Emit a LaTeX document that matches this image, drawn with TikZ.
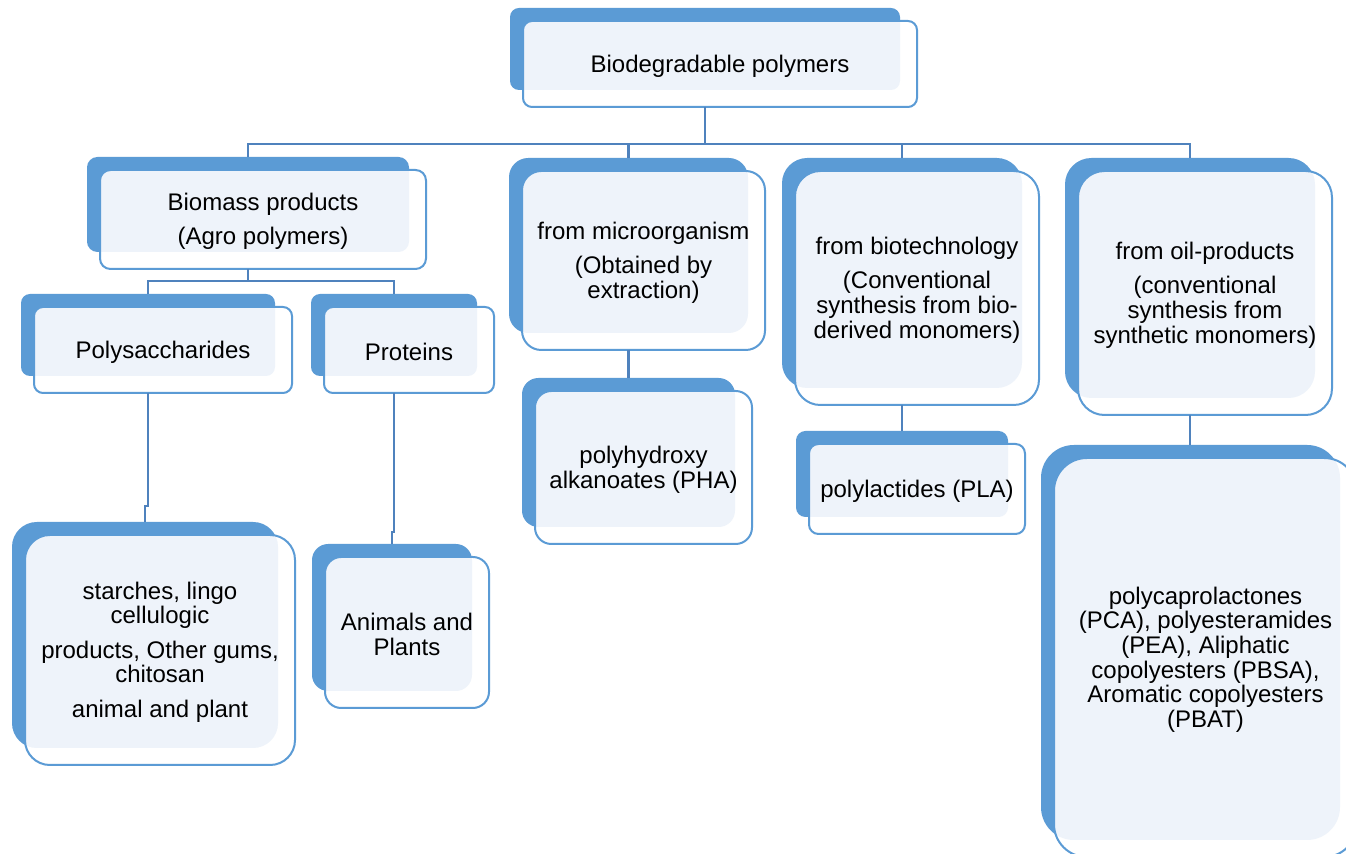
\documentclass[tikz,border=0pt]{standalone}
\usepackage{tikz}
\usepackage{fontspec}
\setmainfont{Liberation Sans}
\usepackage{xcolor}

\definecolor{boxblue}{HTML}{5B9BD5}
\definecolor{boxpale}{HTML}{EEF3FA}
\definecolor{linkblue}{HTML}{4F82BD}

\tikzset{
  backfill/.style = {fill=boxblue},
  frontline/.style = {draw=boxblue, line width=1pt},
  boxtext/.style = {align=center, inner sep=0pt, font=\fontsize{12}{12.3}\selectfont},
  link/.style = {draw=linkblue, line width=1.25pt}
}

% #1 name, #2 #3 top left of the blue back, #4 #5 its size, #6 text
\newcommand{\polybox}[6]{%
  \pgfmathsetmacro{\rr}{0.11*min(#4,#5)}
  \fill[backfill, rounded corners=\rr*0.5pt] (#2,#3) rectangle ++(#4,#5);
  \fill[white, rounded corners=\rr*0.5pt] (#2+13,#3+13) rectangle ++(#4+4,#5+4);
  \begin{scope}
    \clip[rounded corners=\rr*0.5pt] (#2+13,#3+13) rectangle ++(#4+4,#5+4);
    \fill[boxpale, rounded corners=\rr*0.5pt] (#2,#3) rectangle ++(#4,#5);
  \end{scope}
  \draw[frontline, rounded corners=\rr*0.5pt] (#2+13,#3+13) rectangle ++(#4+4,#5+4);
  \coordinate (#1-t) at (#2+#4/2,#3);
  \coordinate (#1-b) at (#2+#4/2,#3+#5+17);
  \node[boxtext] (#1) at (#2+15+#4/2,#3+17+#5/2) {#6};
}

\begin{document}
\begin{tikzpicture}[x=0.5pt, y=-0.5pt]
\fill[white] (0,0) rectangle (1346,854);
\useasboundingbox (0,0) rectangle (1346,854);

\polybox{top}{510}{8}{390}{82}{Biodegradable polymers}

\polybox{bio}{87}{157}{322}{95}{Biomass products\\[5pt](Agro polymers)}
\polybox{micro}{509}{158}{239}{175}{from microorganism\\[5pt](Obtained by\\extraction)}
\polybox{tech}{782}{158}{240}{230}{from biotechnology\\[5pt](Conventional\\synthesis from bio-\\derived monomers)}
\polybox{oil}{1065}{158}{250}{240}{from oil-products\\[5pt](conventional\\synthesis from\\synthetic monomers)}

\polybox{poly}{21}{294}{254}{82}{Polysaccharides}
\polybox{prot}{311}{294}{166}{82}{Proteins}

\polybox{starch}{12}{522}{266}{226}{starches, lingo\\cellulogic\\[5pt]products, Other gums,\\chitosan\\[5pt]animal and plant}
\polybox{anim}{312}{544}{160}{147}{Animals and\\Plants}
\polybox{pha}{522}{378}{213}{149}{polyhydroxy\\alkanoates (PHA)}
\polybox{pla}{796}{431}{212}{86}{polylactides (PLA)}
\polybox{pca}{1041}{445}{299}{395}{polycaprolactones\\(PCA), polyesteramides\\(PEA), Aliphatic\\copolyesters (PBSA),\\Aromatic copolyesters\\(PBAT)}

% tree
\draw[link] (top-b) -- ++(0,37) coordinate (bus);
\foreach \c in {bio,micro,tech,oil}
  \draw[link] (bus) -| (\c-t);

\draw[link] (bio-b) -- ++(0,12) coordinate (bus2);
\foreach \c in {poly,prot}
  \draw[link] (bus2) -| (\c-t);

\draw[link] (poly-b) -- ++(0,113) -| (starch-t);
\draw[link] (prot-b) -- ++(0,139) -| (anim-t);
\draw[link] (micro-b) -- (micro-b |- pha-t);
\draw[link] (tech-b) -- (tech-b |- pla-t);
\draw[link] (oil-b) -- (oil-b |- pca-t);
\end{tikzpicture}
\end{document}
